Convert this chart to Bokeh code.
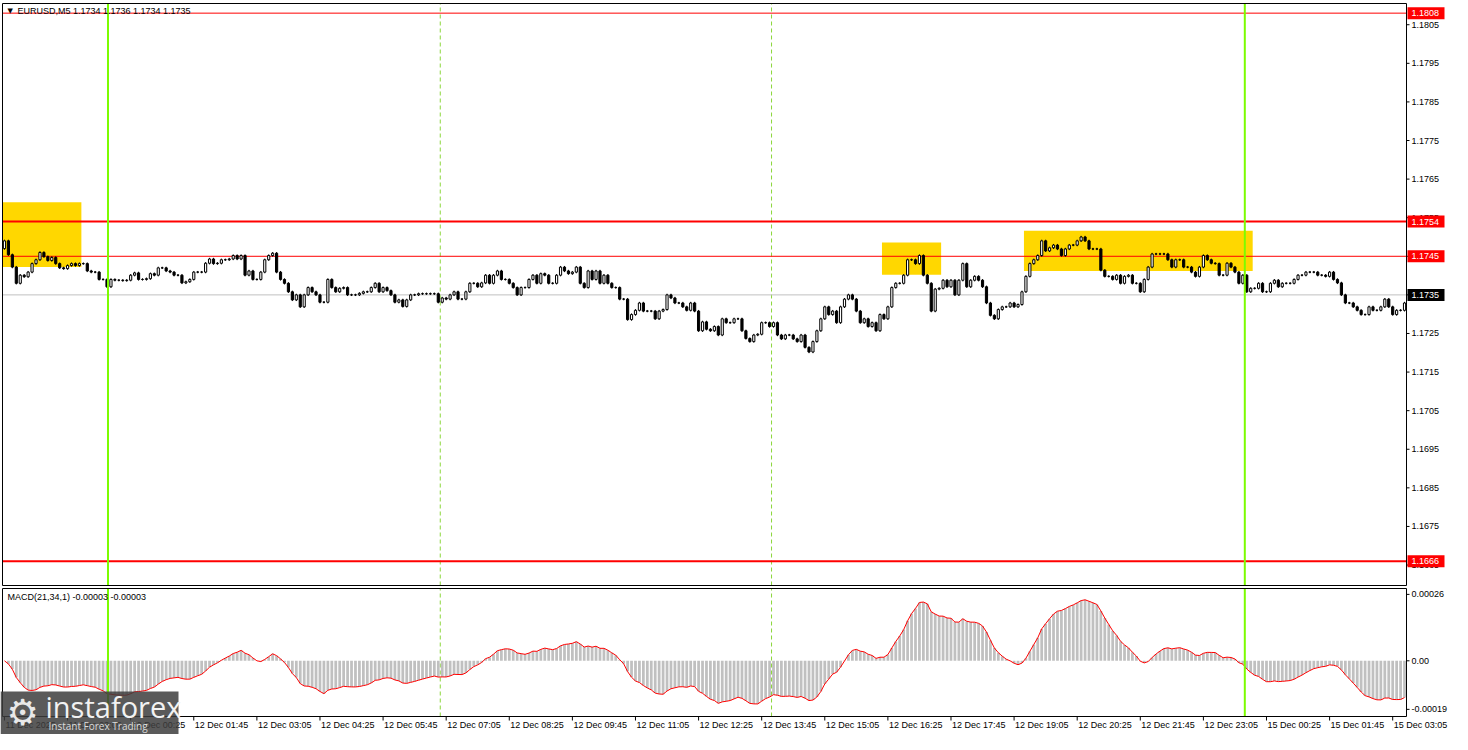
from bokeh.plotting import figure
from bokeh.models import Range1d
from bokeh.layouts import column
from bokeh.core.properties import value
from bokeh.embed import file_html
from bokeh.resources import INLINE

# ---------------- data ----------------
symbol_title = "EURUSD,M5  1.1734 1.1736 1.1734 1.1735"
macd_title = "MACD(21,34,1) -0.00003 -0.00003"
base_price = 1.1735
first_open_pips = 12.0
# close of every M5 bar, in pips relative to base_price
close_pips = [
    14.0, 10.4, 7.2, 3.0, 5.1, 4.7, 5.9, 8.1, 9.1, 11.0,
    9.9, 8.9, 9.7, 8.1, 7.0, 6.8, 7.6, 8.1, 7.6, 8.1,
    8.1, 6.2, 5.9, 5.9, 4.0, 4.0, 2.1, 4.0, 3.8, 3.8,
    3.7, 3.8, 5.1, 5.7, 4.0, 4.0, 4.2, 5.5, 5.1, 7.0,
    7.0, 6.2, 5.9, 5.1, 5.1, 3.1, 3.4, 4.0, 5.9, 5.9,
    5.9, 8.2, 9.3, 8.1, 8.2, 9.1, 9.1, 9.3, 10.2, 9.3,
    10.2, 5.1, 6.2, 4.0, 4.0, 5.9, 9.1, 10.2, 10.8, 5.9,
    4.0, 3.0, 0.8, -1.3, 0.0, -3.1, 0.0, 1.9, 0.8, 0.0,
    -1.9, -1.9, 4.0, 1.9, 0.8, 1.7, 1.9, 0.0, 0.0, 0.0,
    0.4, 0.8, 0.8, 1.9, 3.0, 0.8, 1.9, 1.1, 0.0, -1.9,
    -1.3, -3.0, -1.3, 0.0, 0.0, 0.3, 0.3, 0.3, 0.3, 0.3,
    -1.9, -0.8, -1.1, 0.0, 0.8, -1.1, -1.1, 0.8, 3.0, 3.0,
    2.1, 3.1, 5.1, 3.0, 5.1, 6.2, 4.0, 4.0, 3.0, 1.9,
    0.0, 1.9, 1.9, 4.0, 5.1, 3.0, 5.5, 5.1, 3.0, 3.0,
    5.1, 7.2, 6.2, 5.5, 5.9, 7.2, 3.0, 1.9, 6.2, 4.0,
    6.2, 3.0, 5.1, 3.0, 1.9, 1.9, -1.1, -1.1, -6.4, -5.1,
    -4.0, -2.1, -4.2, -4.2, -4.2, -6.2, -4.2, -3.8, 0.0, -0.8,
    -2.1, -2.1, -3.1, -4.0, -2.1, -4.2, -9.3, -7.0, -8.9, -9.3,
    -8.2, -10.4, -6.2, -7.2, -7.2, -6.2, -6.2, -9.3, -11.3, -12.1,
    -10.4, -10.2, -7.2, -7.2, -8.2, -7.2, -10.4, -11.4, -10.4, -10.4,
    -11.4, -12.1, -10.4, -13.6, -14.8, -12.1, -9.3, -6.2, -3.1, -5.1,
    -4.2, -7.2, -3.1, -1.1, 0.0, -1.1, -4.2, -7.2, -6.2, -8.2,
    -7.2, -9.3, -5.1, -6.2, -3.1, 1.9, 3.0, 3.0, 5.1, 9.1,
    9.1, 8.1, 10.2, 5.1, 3.0, -4.2, 1.5, 1.7, 3.8, 2.1,
    3.8, 0.0, 3.8, 8.1, 2.1, 3.8, 4.8, 3.8, 2.1, -2.1,
    -5.3, -6.2, -3.8, -3.1, -3.1, -2.1, -3.1, -2.5, 0.8, 4.8,
    8.1, 9.1, 10.2, 14.0, 11.4, 12.2, 12.9, 11.9, 10.2, 11.9,
    12.9, 12.9, 14.0, 15.0, 14.0, 11.9, 11.9, 11.9, 6.4, 4.8,
    4.8, 4.0, 5.1, 3.0, 4.8, 5.1, 3.0, 3.0, 0.8, 4.0,
    7.2, 10.6, 10.6, 10.6, 10.6, 9.1, 7.2, 9.1, 9.1, 7.2,
    7.2, 5.9, 4.8, 7.2, 10.2, 9.1, 8.2, 8.1, 5.1, 5.1,
    8.2, 7.2, 5.9, 3.0, 5.1, 0.8, 1.7, 1.7, 3.0, 0.8,
    0.8, 3.0, 3.8, 2.1, 3.0, 3.0, 3.0, 4.0, 5.1, 5.1,
    5.9, 5.9, 5.9, 5.1, 5.1, 4.8, 5.9, 4.0, 3.1, 0.0,
    -2.1, -2.1, -3.1, -4.0, -5.1, -5.1, -3.1, -4.0, -4.0, -3.1,
    -1.1, -3.1, -5.1, -4.0, -4.0, -2.1,
]
time_labels = [
    "11 Dec 2025", "11 Dec 23:05", "12 Dec 00:25", "12 Dec 01:45", "12 Dec 03:05",
    "12 Dec 04:25", "12 Dec 05:45", "12 Dec 07:05", "12 Dec 08:25", "12 Dec 09:45",
    "12 Dec 11:05", "12 Dec 12:25", "12 Dec 13:45", "12 Dec 15:05", "12 Dec 16:25",
    "12 Dec 17:45", "12 Dec 19:05", "12 Dec 20:25", "12 Dec 21:45", "12 Dec 23:05",
    "15 Dec 00:25", "15 Dec 01:45", "15 Dec 03:05",
]
bars_per_label = 16
price_ticks = [1.1665, 1.1675, 1.1685, 1.1695, 1.1705, 1.1715, 1.1725, 1.1735,
               1.1745, 1.1755, 1.1765, 1.1775, 1.1785, 1.1795, 1.1805]
level_prices = [1.1808, 1.1754, 1.1745, 1.1666]
bid_price = 1.1735
zone_left = [-0.5, 222.5, 258.5]
zone_right = [19.5, 237.5, 316.5]
zone_bottom = [1.17422, 1.17402, 1.17412]
zone_top = [1.17590, 1.17486, 1.17516]
green_lines = [26.25, 314.5]
dashed_lines = [110.5, 194.5]
macd_ticks = [0.00026, 0.0, -0.00019]
macd_tick_text = ["0.00026", "0.00", "-0.00019"]
macd_fast, macd_slow = 21, 34

# ---------------- derived ----------------
n = len(close_pips)
idx = list(range(n))
closes = [base_price + c * 0.0001 for c in close_pips]
opens = [base_price + first_open_pips * 0.0001] + closes[:-1]
wick = 0.00003
body_top = [max(o, c) for o, c in zip(opens, closes)]
body_bot = [min(o, c) for o, c in zip(opens, closes)]
highs = [t + wick for t in body_top]
lows = [b - wick for b in body_bot]
colors = ["white" if c >= o else "black" for o, c in zip(opens, closes)]


def ema(vals, period):
    k = 2.0 / (period + 1)
    out = [vals[0]]
    for v in vals[1:]:
        out.append(out[-1] + k * (v - out[-1]))
    return out


ef = ema(closes, macd_fast)
es = ema(closes, macd_slow)
macd = [a - b for a, b in zip(ef, es)]

# ---------------- layout geometry ----------------
FONT = "Liberation Sans"
TOTAL_W = 1452
DATA_W = 1404
LEFT_PAD = 2
bw = DATA_W / n                      # px per bar
X0 = -0.5                            # data-area left edge (bar units)
X1 = n - 0.5                         # data-area right edge
x_rng = Range1d(X0 - LEFT_PAD / bw, X0 + (TOTAL_W - LEFT_PAD) / bw)


def make_panel(height, lo, hi, data_h, pad_top, pad_bottom):
    pp = (hi - lo) / data_h
    f = figure(width=TOTAL_W, height=height, x_range=x_rng,
               y_range=Range1d(lo - pad_bottom * pp, hi + pad_top * pp),
               output_backend="svg", toolbar_location=None,
               x_axis_location=None, y_axis_location=None, min_border=0,
               background_fill_color="white", border_fill_color="white",
               outline_line_color=None)
    f.grid.visible = False
    return f, pp


def right_scale(f, pp, ticks, texts):
    f.segment(x0=[X1] * len(ticks), x1=[X1 + 3 / bw] * len(ticks), y0=ticks, y1=ticks,
              line_color="black", line_width=1)
    f.text(x=[X1 + 5 / bw] * len(ticks), y=ticks, text=texts, text_align="left",
           text_baseline="middle", text_font=value(FONT), text_font_size=value("9px"),
           text_color="black")


# ---------------- main price panel ----------------
ylo, yhi = 1.16597, 1.18105
p, pp = make_panel(587, ylo, yhi, 582, 3, 2)

p.quad(left=zone_left, right=zone_right, bottom=zone_bottom, top=zone_top,
       fill_color="#FFD700", line_color=None)
p.segment(x0=dashed_lines, x1=dashed_lines, y0=[ylo] * 2, y1=[yhi] * 2,
          line_color="#8BD63A", line_width=1, line_dash="4 3")
p.segment(x0=[X0], x1=[X1], y0=[bid_price], y1=[bid_price], line_color="#C0C0C0", line_width=1)
lvl_w = [1, 2, 1, 2]
p.segment(x0=[X0] * 4, x1=[X1] * 4, y0=level_prices, y1=level_prices,
          line_color="#FF0000", line_width=lvl_w)

p.segment(x0=idx, y0=lows, x1=idx, y1=highs, line_color="black", line_width=1)
p.vbar(x=idx, top=body_top, bottom=body_bot, width=0.55,
       fill_color=colors, line_color="black", line_width=1)

p.segment(x0=green_lines, x1=green_lines, y0=[ylo] * 2, y1=[yhi] * 2,
          line_color="#7CFC00", line_width=2)

right_scale(p, pp, price_ticks, [f"{t:.4f}" for t in price_ticks])

# price boxes on the scale
box_prices = level_prices + [bid_price]
box_colors = ["#FF0000"] * len(level_prices) + ["black"]
p.quad(left=[X1 + 1 / bw] * 5, right=[X1 + 38 / bw] * 5,
       bottom=[v - 6 * pp for v in box_prices], top=[v + 6 * pp for v in box_prices],
       fill_color=box_colors, line_color=None)
p.text(x=[X1 + 5 / bw] * 5, y=box_prices, text=[f"{v:.4f}" for v in box_prices],
       text_align="left", text_baseline="middle", text_font=value(FONT),
       text_font_size=value("9px"), text_color="white")

p.quad(left=[X0], right=[X1], bottom=[ylo], top=[yhi], fill_color=None,
       line_color="black", line_width=1)

# title
p.text(x=[X0 + 5 / bw], y=[yhi - 7 * pp], text=["▼"], text_align="left", text_baseline="middle",
       text_font=value("DejaVu Sans"), text_font_size=value("7px"), text_color="black")
p.text(x=[X0 + 15 / bw], y=[yhi - 7 * pp], text=[symbol_title], text_align="left",
       text_baseline="middle", text_font=value(FONT), text_font_size=value("9px"),
       text_color="black")

# ---------------- MACD panel ----------------
mlo, mhi = -0.000218, 0.000283
q, mp = make_panel(147, mlo, mhi, 128, 1, 18)

q.segment(x0=dashed_lines, x1=dashed_lines, y0=[mlo] * 2, y1=[mhi] * 2,
          line_color="#8BD63A", line_width=1, line_dash="4 3")
q.vbar(x=idx, top=macd, bottom=0, width=0.7, fill_color="#C0C0C0", line_color=None)
q.line(idx, macd, line_color="#FF0000", line_width=1)
q.segment(x0=green_lines, x1=green_lines, y0=[mlo] * 2, y1=[mhi] * 2,
          line_color="#7CFC00", line_width=2)

right_scale(q, mp, macd_ticks, macd_tick_text)
q.quad(left=[X0], right=[X1], bottom=[mlo], top=[mhi], fill_color=None,
       line_color="black", line_width=1)

q.text(x=[X0 + 5 / bw], y=[mhi - 8 * mp], text=[macd_title], text_align="left",
       text_baseline="middle", text_font=value(FONT), text_font_size=value("9px"),
       text_color="black")

# time scale
tick_pos = [k * bars_per_label for k in range(len(time_labels))]
q.segment(x0=tick_pos, x1=tick_pos, y0=[mlo] * len(tick_pos), y1=[mlo - 4 * mp] * len(tick_pos),
          line_color="black", line_width=1)
q.text(x=[t + 1 / bw for t in tick_pos], y=[mlo - 3 * mp] * len(tick_pos), text=time_labels,
       text_align="left", text_baseline="top", text_font=value(FONT),
       text_font_size=value("9px"), text_color="black")

# logo overlay
q.quad(left=[x_rng.start], right=[X0 + 176 / bw], bottom=[mlo - 18 * mp], top=[mhi - 103 * mp],
       fill_color="#3d3d3d", fill_alpha=0.85, line_color=None)
q.text(x=[X0 + 4 / bw], y=[mhi - 124 * mp], text=["⚙"], text_align="left", text_baseline="middle",
       text_font=value("DejaVu Sans"), text_font_size=value("36px"), text_color="#e8e8e8")
q.text(x=[X0 + 43 / bw], y=[mhi - 118 * mp], text=["instaforex"], text_align="left",
       text_baseline="middle", text_font=value("Open Sans"), text_font_size=value("29px"),
       text_color="#f2f2f2")
q.text(x=[X0 + 46 / bw], y=[mhi - 137 * mp], text=["Instant Forex Trading"], text_align="left",
       text_baseline="middle", text_font=value("Open Sans"), text_font_size=value("10px"),
       text_color="#dcdcdc")

layout = column(p, q, spacing=0)
open("out.html", "w").write(file_html(layout, INLINE))
